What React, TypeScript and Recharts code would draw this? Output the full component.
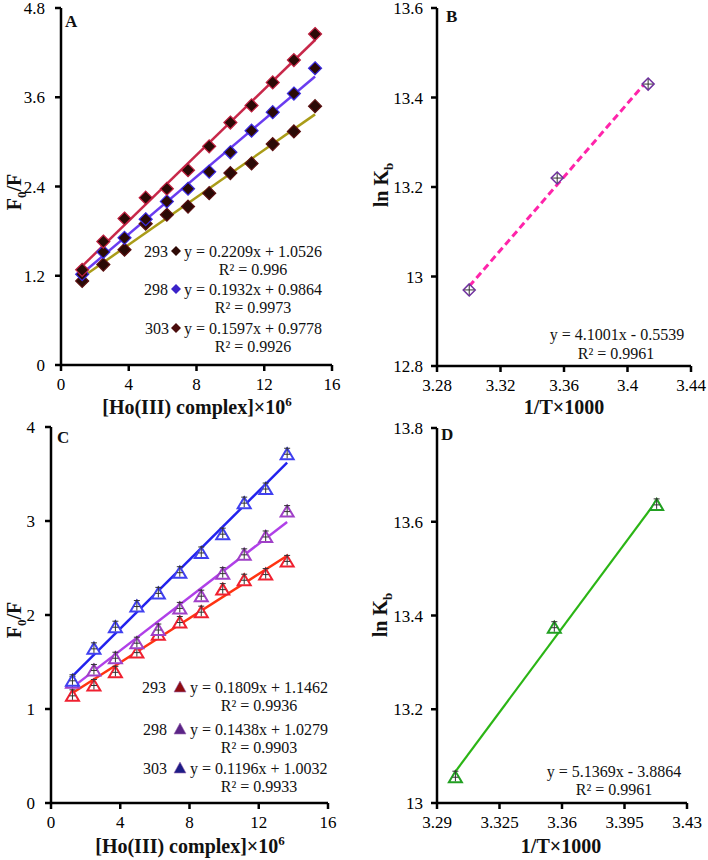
import React from 'react';
import { ScatterChart, Scatter, XAxis, YAxis } from 'recharts';

// ---- data ----
// panel A: F0/F against [Ho(III) complex]x10^6, diamonds
const concA = [1.25, 2.5, 3.75, 5, 6.25, 7.5, 8.75, 10, 11.25, 12.5, 13.75, 15];
const aRed = [1.28, 1.66, 1.97, 2.25, 2.37, 2.62, 2.94, 3.26, 3.49, 3.8, 4.1, 4.45];
const aBlue = [1.22, 1.52, 1.71, 1.96, 2.2, 2.37, 2.6, 2.86, 3.15, 3.4, 3.65, 3.99];
const aOlive = [1.13, 1.35, 1.55, 1.9, 2.02, 2.13, 2.31, 2.58, 2.71, 2.97, 3.14, 3.48];
// trendline end points (first / last x)
const aRedFit = [1.33, 4.37];
const aBlueFit = [1.23, 3.88];
const aOliveFit = [1.18, 3.37];

// panel B: ln Kb against 1/T x 1000
const invT = [3.3003, 3.3557, 3.413];
const lnKbB = [12.97, 13.22, 13.43];
const bFit = [12.978, 13.44];

// panel C: F0/F, triangles
const concC = [1.24, 2.48, 3.72, 4.96, 6.2, 7.44, 8.68, 9.92, 11.16, 12.4, 13.64];
const cBlue = [1.3, 1.64, 1.87, 2.09, 2.23, 2.45, 2.66, 2.86, 3.19, 3.34, 3.71];
const cPurple = [1.28, 1.41, 1.54, 1.7, 1.84, 2.07, 2.2, 2.44, 2.64, 2.83, 3.1];
const cRed = [1.14, 1.25, 1.39, 1.6, 1.79, 1.92, 2.03, 2.27, 2.37, 2.43, 2.57];
const cBlueFit = [1.35, 3.62];
const cPurpleFit = [1.23, 2.99];
const cRedFit = [1.17, 2.63];

// panel D
const lnKbD = [13.055, 13.374, 13.636];
const dFit = [13.067, 13.645];

// ticks
const ticksConc = [0, 4, 8, 12, 16];
const ticksAy = [0, 1.2, 2.4, 3.6, 4.8];
const ticksBx = [3.28, 3.32, 3.36, 3.4, 3.44];
const ticksBy = [12.8, 13, 13.2, 13.4, 13.6];
const ticksCy = [0, 1, 2, 3, 4];
const ticksDx = [3.29, 3.325, 3.36, 3.395, 3.43];
const ticksDy = [13, 13.2, 13.4, 13.6, 13.8];

const legendA = [
    { t: '293', eq: 'y = 0.2209x + 1.0526', r2: 'R² = 0.996', fill: '#2e0a06' },
    { t: '298', eq: 'y = 0.1932x + 0.9864', r2: 'R² = 0.9973', fill: '#3a22c8' },
    { t: '303', eq: 'y = 0.1597x + 0.9778', r2: 'R² = 0.9926', fill: '#4a0c0c' },
];
const legendC = [
    { t: '293', eq: 'y = 0.1809x + 1.1462', r2: 'R² = 0.9936', fill: '#8e0c10' },
    { t: '298', eq: 'y = 0.1438x + 1.0279', r2: 'R² = 0.9903', fill: '#5a2486' },
    { t: '303', eq: 'y = 0.1196x + 1.0032', r2: 'R² = 0.9933', fill: '#1c1c86' },
];

const toPts = (xs: number[], ys: number[]) => xs.map((x, i) => ({ x, y: ys[i] }));
const fitPts = (xs: number[], ys: number[]) => [
    { x: xs[0], y: ys[0] },
    { x: xs[xs.length - 1], y: ys[1] },
];

const FONT = '"Liberation Serif", "Times New Roman", serif';
const W = 708;
const H = 860;

// ---- marker shapes ----
const diamond = (stroke: string) => (p: any) => {
    const { cx, cy } = p;
    const s = 6.5;
    return (
        <path
            d={`M${cx},${cy - s}L${cx + s},${cy}L${cx},${cy + s}L${cx - s},${cy}Z`}
            fill="#2b0a06"
            stroke={stroke}
            strokeWidth={1.2}
        />
    );
};

const openDiamond = (p: any) => {
    const { cx, cy } = p;
    const s = 6;
    return (
        <g>
            <path
                d={`M${cx},${cy - s}L${cx + s},${cy}L${cx},${cy + s}L${cx - s},${cy}Z`}
                fill="#fff"
                stroke="#7030a0"
                strokeWidth={1.5}
            />
            <line x1={cx - 5} y1={cy} x2={cx + 5} y2={cy} stroke="#333" strokeWidth={1} />
            <line x1={cx} y1={cy - 5} x2={cx} y2={cy + 5} stroke="#333" strokeWidth={1} />
        </g>
    );
};

const triangle = (stroke: string) => (p: any) => {
    const { cx, cy } = p;
    return (
        <g>
            <path
                d={`M${cx},${cy - 6}L${cx + 6.5},${cy + 5}L${cx - 6.5},${cy + 5}Z`}
                fill="#fff"
                stroke={stroke}
                strokeWidth={2}
            />
            <line x1={cx} y1={cy - 7} x2={cx} y2={cy + 4} stroke="#333" strokeWidth={1} />
            <line x1={cx - 3} y1={cy - 6} x2={cx + 3} y2={cy - 6} stroke="#333" strokeWidth={1} />
            <line x1={cx - 3} y1={cy} x2={cx + 3} y2={cy} stroke="#333" strokeWidth={1} />
        </g>
    );
};

const noShape = () => <g />;

const axisProps = {
    axisLine: { stroke: '#000', strokeWidth: 2.5 },
    tickLine: { stroke: '#000', strokeWidth: 2.5 },
    tickSize: 6,
    tick: { fill: '#000', fontSize: 17, fontFamily: FONT },
    allowDataOverflow: true,
};

const Panel = ({
    margin,
    xDomain,
    yDomain,
    xTicks,
    yTicks,
    yTickMargin,
    children,
}: any) => (
    <div style={{ position: 'absolute', left: 0, top: 0 }}>
        <ScatterChart width={W} height={H} margin={margin}>
            <XAxis
                type="number"
                dataKey="x"
                domain={xDomain}
                ticks={xTicks}
                height={30}
                tickMargin={7}
                interval={0}
                {...axisProps}
            />
            <YAxis
                type="number"
                dataKey="y"
                domain={yDomain}
                ticks={yTicks}
                width={50}
                tickMargin={yTickMargin}
                interval={0}
                {...axisProps}
            />
            {children}
        </ScatterChart>
    </div>
);

const fitLine = (stroke: string, width = 2.5, dash?: string) => ({
    stroke,
    strokeWidth: width,
    strokeDasharray: dash,
});

const txt = { fontFamily: FONT, fill: '#111' };

const Sub = ({ children }: any) => (
    <tspan fontSize={13} dy={5}>
        {children}
    </tspan>
);

const YTitle = ({ x, y, kind }: { x: number; y: number; kind: 'F' | 'K' }) => (
    <text
        x={x}
        y={y}
        transform={`rotate(-90 ${x} ${y})`}
        textAnchor="middle"
        dy="0.35em"
        fontSize={20}
        fontWeight="bold"
        {...txt}
    >
        {kind === 'F' ? (
            <>
                F<Sub>0</Sub>
                <tspan dy={-5}>/F</tspan>
            </>
        ) : (
            <>
                ln K<Sub>b</Sub>
            </>
        )}
    </text>
);

const ConcTitle = ({ x, y }: { x: number; y: number }) => (
    <text x={x} y={y} textAnchor="middle" fontSize={20} fontWeight="bold" {...txt}>
        [Ho(III) complex]×10
        <tspan fontSize={13} dy={-8}>
            6
        </tspan>
    </text>
);

const LegendBlock = ({ rows, rows_y, numRight, markX, eqX, eqMid, tri }: any) => (
    <g>
        {rows.map((r: any, i: number) => {
            const y = rows_y[i];
            return (
                <g key={r.t}>
                    <text x={numRight[i]} y={y + 5.5} textAnchor="end" fontSize={16} {...txt}>
                        {r.t}
                    </text>
                    {tri ? (
                        <path
                            d={`M${markX},${y - 6}L${markX + 6},${y + 5}L${markX - 6},${y + 5}Z`}
                            fill={r.fill}
                            stroke="#9a6ab0"
                            strokeWidth={0.6}
                        />
                    ) : (
                        <path
                            d={`M${markX},${y - 5}L${markX + 5},${y}L${markX},${y + 5}L${markX - 5},${y}Z`}
                            fill={r.fill}
                        />
                    )}
                    <text x={eqX} y={y + 5.5} fontSize={16} {...txt}>
                        {r.eq}
                    </text>
                    <text x={eqMid} y={y + 23.5} textAnchor="middle" fontSize={16} {...txt}>
                        {r.r2}
                    </text>
                </g>
            );
        })}
    </g>
);

export default function App() {
    return (
        <div style={{ position: 'absolute', left: 0, top: 0, width: W, height: H, background: '#fff' }}>
            {/* A */}
            <Panel
                margin={{ top: 8, left: 11, right: W - 332, bottom: H - 365 - 30 }}
                xDomain={[0, 16]}
                yDomain={[0, 4.8]}
                xTicks={ticksConc}
                yTicks={ticksAy}
                yTickMargin={10}
            >
                <Scatter data={fitPts(concA, aRedFit)} line={fitLine('#c8284a')} shape={noShape} isAnimationActive={false} />
                <Scatter data={fitPts(concA, aBlueFit)} line={fitLine('#6a3cf0')} shape={noShape} isAnimationActive={false} />
                <Scatter data={fitPts(concA, aOliveFit)} line={fitLine('#aa9c18')} shape={noShape} isAnimationActive={false} />
                <Scatter data={toPts(concA, aOlive)} shape={diamond('#5a1010')} isAnimationActive={false} />
                <Scatter data={toPts(concA, aBlue)} shape={diamond('#3a2ae0')} isAnimationActive={false} />
                <Scatter data={toPts(concA, aRed)} shape={diamond('#c02040')} isAnimationActive={false} />
            </Panel>

            {/* B */}
            <Panel
                margin={{ top: 8, left: 437 - 50, right: W - 691, bottom: H - 366 - 30 }}
                xDomain={[3.28, 3.44]}
                yDomain={[12.8, 13.6]}
                xTicks={ticksBx}
                yTicks={ticksBy}
                yTickMargin={8}
            >
                <Scatter
                    data={fitPts(invT, bFit)}
                    line={fitLine('#ff24aa', 3, '7 4')}
                    shape={noShape}
                    isAnimationActive={false}
                />
                <Scatter data={toPts(invT, lnKbB)} shape={openDiamond} isAnimationActive={false} />
            </Panel>

            {/* C */}
            <Panel
                margin={{ top: 427, left: 1, right: W - 328, bottom: H - 803 - 30 }}
                xDomain={[0, 16]}
                yDomain={[0, 4]}
                xTicks={ticksConc}
                yTicks={ticksCy}
                yTickMargin={10}
            >
                <Scatter data={fitPts(concC, cBlueFit)} line={fitLine('#2222ee')} shape={noShape} isAnimationActive={false} />
                <Scatter data={fitPts(concC, cPurpleFit)} line={fitLine('#b040e8')} shape={noShape} isAnimationActive={false} />
                <Scatter data={fitPts(concC, cRedFit)} line={fitLine('#ff3311')} shape={noShape} isAnimationActive={false} />
                <Scatter data={toPts(concC, cRed)} shape={triangle('#f02030')} isAnimationActive={false} />
                <Scatter data={toPts(concC, cPurple)} shape={triangle('#a040c8')} isAnimationActive={false} />
                <Scatter data={toPts(concC, cBlue)} shape={triangle('#4040f0')} isAnimationActive={false} />
            </Panel>

            {/* D */}
            <Panel
                margin={{ top: 428, left: 437 - 50, right: W - 687, bottom: H - 803 - 30 }}
                xDomain={[3.29, 3.43]}
                yDomain={[13, 13.8]}
                xTicks={ticksDx}
                yTicks={ticksDy}
                yTickMargin={8}
            >
                <Scatter data={fitPts(invT, dFit)} line={fitLine('#2bb515', 2.2)} shape={noShape} isAnimationActive={false} />
                <Scatter data={toPts(invT, lnKbD)} shape={triangle('#22a022')} isAnimationActive={false} />
            </Panel>

            {/* labels, titles, equations */}
            <svg width={W} height={H} style={{ position: 'absolute', left: 0, top: 0, pointerEvents: 'none' }}>
                <text x={65} y={27} fontSize={17} fontWeight="bold" {...txt}>A</text>
                <text x={446} y={22} fontSize={17} fontWeight="bold" {...txt}>B</text>
                <text x={57} y={443} fontSize={17} fontWeight="bold" {...txt}>C</text>
                <text x={441} y={440} fontSize={17} fontWeight="bold" {...txt}>D</text>

                <YTitle x={14} y={192} kind="F" />
                <YTitle x={381} y={185} kind="K" />
                <YTitle x={14} y={620} kind="F" />
                <YTitle x={380} y={615} kind="K" />

                <ConcTitle x={197} y={414} />
                <text x={564} y={414} textAnchor="middle" fontSize={20} fontWeight="bold" {...txt}>1/T×1000</text>
                <ConcTitle x={190} y={853} />
                <text x={561} y={853} textAnchor="middle" fontSize={20} fontWeight="bold" {...txt}>1/T×1000</text>

                <LegendBlock
                    rows={legendA}
                    rows_y={[251, 289, 328]}
                    numRight={[168, 168, 169]}
                    markX={176}
                    eqX={184}
                    eqMid={253}
                />
                <LegendBlock
                    rows={legendC}
                    rows_y={[687, 729, 768]}
                    numRight={[166, 167, 167]}
                    markX={180}
                    eqX={190}
                    eqMid={259}
                    tri
                />

                <text x={617} y={339.5} textAnchor="middle" fontSize={16} {...txt}>y = 4.1001x - 0.5539</text>
                <text x={616} y={358.5} textAnchor="middle" fontSize={16} {...txt}>R² = 0.9961</text>
                <text x={614} y={776.5} textAnchor="middle" fontSize={16} {...txt}>y = 5.1369x - 3.8864</text>
                <text x={614} y={794.5} textAnchor="middle" fontSize={16} {...txt}>R² = 0.9961</text>
            </svg>
        </div>
    );
}
